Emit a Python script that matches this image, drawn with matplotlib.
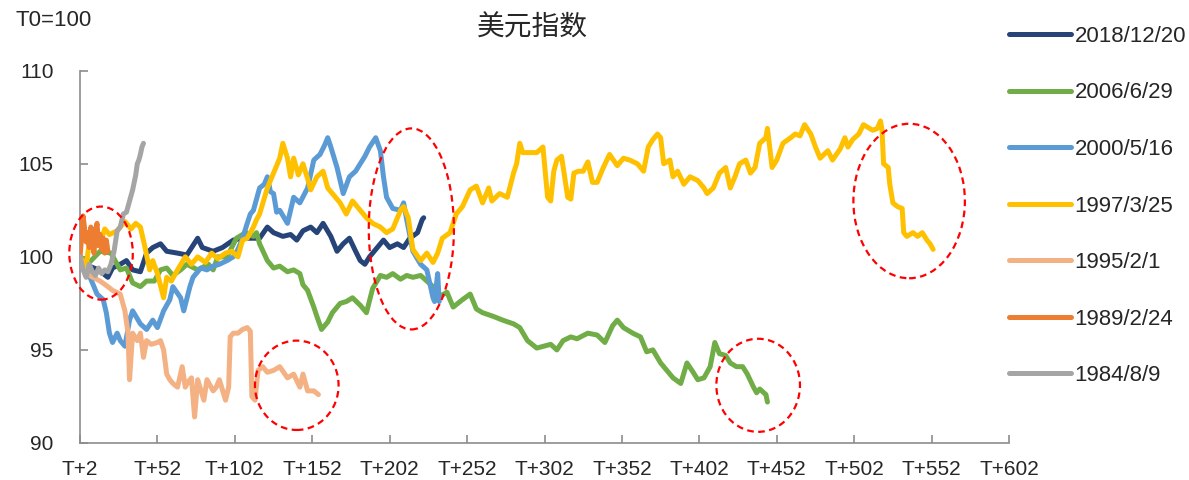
import matplotlib
matplotlib.use("Agg")
import matplotlib.pyplot as plt
from matplotlib.patches import Ellipse

plt.rcParams['font.family'] = ['Liberation Sans', 'Noto Sans CJK SC', 'DejaVu Sans']

# ---- data: US dollar index rebased to T0 = 100, by trading day after T0 ----
t_2018 = [2, 8, 14, 20, 23, 28, 32, 36, 41, 45, 49, 54, 58, 65, 71, 78, 81, 88, 94, 101,
          107, 114, 118, 123, 127, 133, 138, 142, 146, 151, 155, 159, 164, 168, 172, 176,
          180, 183, 186, 189, 194, 198, 202, 207, 211, 215, 220, 223, 224]
v_2018 = [100.0, 99.5, 99.3, 98.9, 99.4, 99.6, 99.8, 99.3, 99.2, 100.2, 100.5, 100.7, 100.3,
          100.2, 100.1, 101.0, 100.5, 100.3, 100.5, 100.9, 101.0, 101.0, 101.0, 101.6, 101.3,
          101.1, 101.2, 100.9, 101.4, 101.6, 101.3, 101.8, 101.1, 100.3, 100.7, 101.0, 100.3,
          99.8, 99.6, 100.0, 100.5, 100.9, 100.5, 100.7, 100.5, 101.0, 101.3, 102.0, 102.1]

t_2006 = [2, 8, 15, 22, 28, 32, 36, 41, 45, 50, 54, 58, 62, 67, 71, 78, 85, 88, 91, 97,
          100, 103, 109, 114, 116, 118, 123, 127, 131, 136, 140, 144, 146, 149, 153, 155,
          158, 162, 165, 170, 174, 178, 183, 187, 191, 196, 200, 204, 209, 213, 217, 222,
          226, 230, 235, 239, 243, 249, 254, 258, 262, 269, 275, 282, 286, 291, 297, 306,
          310, 314, 319, 323, 330, 336, 341, 346, 349, 353, 359, 364, 368, 372, 377, 381,
          385, 390, 394, 398, 401, 405, 409, 412, 415, 419, 422, 426, 430, 433, 437, 439,
          441, 445, 446]
v_2006 = [100.0, 99.7, 100.3, 100.2, 99.3, 99.4, 98.6, 98.4, 98.7, 98.7, 99.3, 99.4, 99.0,
          99.3, 99.6, 99.3, 99.6, 99.3, 100.0, 100.0, 100.5, 101.0, 101.3, 101.1, 101.3,
          100.7, 99.8, 99.4, 99.5, 99.2, 99.3, 99.1, 98.5, 98.2, 97.3, 96.8, 96.1, 96.5,
          97.0, 97.5, 97.6, 97.8, 97.4, 97.0, 98.3, 99.0, 98.9, 99.1, 98.8, 99.0, 98.9,
          99.0, 98.7, 98.4, 97.9, 98.1, 97.3, 97.7, 98.0, 97.2, 97.0, 96.8, 96.6, 96.4,
          96.2, 95.5, 95.1, 95.3, 95.0, 95.5, 95.7, 95.6, 95.9, 95.8, 95.4, 96.3, 96.6,
          96.2, 95.9, 95.7, 94.9, 95.0, 94.3, 93.9, 93.5, 93.2, 94.3, 93.8, 93.4, 93.5,
          94.1, 95.4, 94.8, 94.7, 94.3, 94.1, 94.1, 93.7, 93.0, 92.7, 92.9, 92.6, 92.2]

t_2000 = [2, 4, 8, 13, 17, 19, 21, 23, 26, 28, 31, 34, 36, 41, 45, 49, 52, 56, 60, 62,
          67, 69, 73, 75, 80, 84, 88, 92, 97, 101, 104, 107, 110, 112, 114, 118, 121, 123,
          125, 127, 129, 131, 136, 140, 144, 149, 153, 157, 160, 162, 164, 168, 172, 176,
          180, 183, 186, 189, 193, 196, 198, 200, 204, 209, 211, 213, 217, 222, 226, 230,
          231, 233, 234]
v_2000 = [100.0, 99.4, 99.0, 98.0, 97.7, 97.0, 95.9, 95.4, 95.9, 95.5, 95.2, 96.6, 97.1,
          96.4, 96.1, 96.6, 96.2, 97.1, 97.7, 98.4, 97.8, 97.1, 98.4, 98.9, 99.4, 99.3,
          99.5, 99.6, 99.8, 100.0, 100.4, 101.0, 101.8, 102.3, 102.5, 103.7, 103.9, 104.3,
          103.5, 103.4, 102.4, 102.5, 101.8, 103.2, 102.9, 103.7, 105.2, 105.5, 106.0,
          106.4, 105.9, 104.8, 103.4, 104.3, 104.6, 105.0, 105.4, 105.9, 106.4, 105.7,
          104.3, 103.2, 102.6, 102.5, 102.9, 102.0, 100.3, 99.6, 99.3, 97.8, 97.6, 99.1,
          97.6]

t_1997 = [2, 6, 8, 12, 15, 18, 21, 26, 31, 35, 38, 41, 44, 47, 49, 52, 56, 58, 61, 65,
          70, 74, 78, 83, 87, 91, 96, 100, 104, 107, 110, 114, 116, 118, 123, 127, 131,
          133, 136, 138, 140, 143, 146, 149, 151, 155, 159, 162, 165, 170, 174, 178, 183,
          187, 191, 196, 200, 204, 209, 211, 214, 217, 222, 226, 230, 233, 236, 241, 245,
          249, 254, 258, 262, 266, 268, 273, 278, 282, 284, 286, 288, 293, 297, 301, 304,
          306, 308, 310, 313, 317, 319, 321, 324, 327, 330, 333, 336, 340, 344, 349, 353,
          357, 362, 366, 369, 372, 375, 377, 379, 383, 385, 388, 392, 396, 401, 405, 407,
          411, 415, 419, 422, 425, 428, 432, 435, 438, 441, 445, 446, 449, 452, 456, 461,
          464, 467, 470, 474, 477, 480, 485, 488, 493, 496, 498, 501, 505, 508, 512, 514,
          517, 519, 520, 521, 524, 525, 527, 530, 533, 534, 536, 540, 543, 546, 549, 551,
          553]
v_1997 = [100.0, 99.5, 100.8, 101.3, 100.7, 101.5, 101.2, 101.4, 101.9, 101.5, 101.8,
          101.6, 100.5, 99.3, 99.8, 99.1, 97.8, 98.9, 98.7, 99.3, 100.0, 99.6, 100.0, 99.7,
          100.2, 99.9, 100.2, 100.3, 100.0, 100.9, 101.0, 101.6, 102.0, 102.3, 103.7, 104.5,
          105.3, 106.1, 105.3, 104.3, 105.3, 104.4, 105.0, 104.2, 103.6, 104.3, 104.6,
          103.7, 103.4, 102.9, 102.3, 103.0, 102.5, 102.1, 101.8, 101.6, 101.3, 101.5,
          102.5, 102.7, 102.1, 100.4, 99.8, 100.2, 99.7, 100.2, 101.0, 101.3, 102.3, 102.7,
          103.6, 103.8, 102.9, 103.7, 103.0, 103.4, 103.2, 104.5, 105.0, 106.1, 105.6,
          105.6, 105.6, 105.9, 103.2, 103.0, 104.6, 105.2, 105.4, 103.2, 103.1, 104.5,
          104.6, 104.6, 105.1, 104.0, 104.0, 104.8, 105.5, 104.9, 105.3, 105.2, 105.0,
          104.6, 105.9, 106.3, 106.6, 106.4, 105.0, 105.2, 104.3, 104.6, 103.9, 104.3,
          104.1, 103.7, 103.4, 103.7, 104.5, 104.8, 103.7, 104.3, 105.0, 105.2, 104.5,
          104.8, 106.1, 106.4, 106.9, 104.8, 105.2, 106.1, 106.4, 106.6, 106.5, 107.1,
          106.6, 105.9, 105.3, 105.7, 105.2, 105.8, 106.4, 105.9, 106.3, 106.6, 107.1,
          106.9, 106.8, 106.9, 107.3, 106.8, 105.0, 104.8, 103.9, 102.9, 102.7, 102.6,
          101.3, 101.1, 101.3, 101.1, 101.3, 100.9, 100.7, 100.4]

t_1995 = [2, 4, 8, 15, 20, 23, 28, 31, 33, 34, 36, 39, 41, 43, 45, 48, 52, 54, 56, 58, 60,
          62, 65, 68, 70, 72, 74, 76, 78, 82, 84, 88, 90, 92, 96, 98, 99, 101, 104, 107, 110,
          112, 113, 115, 117, 120, 123, 127, 131, 136, 140, 144, 146, 149, 153, 156]
v_1995 = [100.0, 99.4, 99.0, 98.7, 98.4, 98.2, 98.0, 97.1, 95.9, 93.4, 95.9, 95.5, 95.9,
          94.6, 95.5, 95.3, 95.4, 95.5, 95.0, 93.7, 93.4, 93.2, 93.0, 94.1, 93.0, 93.3,
          93.5, 91.4, 93.4, 92.3, 93.4, 92.8, 93.0, 93.4, 92.3, 93.0, 95.7, 95.9, 95.9,
          96.1, 96.2, 96.0, 92.5, 92.3, 93.9, 94.1, 93.8, 93.9, 94.1, 93.5, 93.7, 93.0,
          93.7, 92.8, 92.8, 92.6]

t_1989 = [2, 3, 4, 5, 6, 7, 8, 9, 10, 11, 12, 13, 14, 15, 16, 17, 18, 19, 20]
v_1989 = [100.0, 101.0, 102.2, 101.5, 100.8, 101.3, 100.5, 101.6, 101.0, 100.2, 101.4,
          101.8, 100.6, 101.2, 100.4, 101.0, 100.2, 100.9, 100.3]

t_1984 = [2, 4, 6, 8, 10, 12, 14, 16, 18, 20, 22, 24, 26, 28, 30, 32, 34, 36, 37, 38, 39,
          40, 41, 42, 43]
v_1984 = [100.0, 99.3, 98.9, 99.6, 99.2, 99.0, 99.4, 99.1, 99.3, 99.2, 99.6, 100.3, 101.4,
          101.6, 102.3, 102.4, 103.0, 103.6, 104.0, 104.4, 105.0, 105.2, 105.5, 105.9,
          106.1]

labels = ['2018/12/20', '2006/6/29', '2000/5/16', '1997/3/25', '1995/2/1',
          '1989/2/24', '1984/8/9']
colors = ['#264478', '#70AD47', '#5B9BD5', '#FFC000', '#F4B183', '#ED7D31', '#A5A5A5']
series = [(t_2018, v_2018), (t_2006, v_2006), (t_2000, v_2000), (t_1997, v_1997),
          (t_1995, v_1995), (t_1989, v_1989), (t_1984, v_1984)]

x_ticks = list(range(2, 603, 50))
x_ticklabels = ['T+%d' % t for t in x_ticks]
y_ticks = [90, 95, 100, 105, 110]

# highlighted episodes: (centre day, centre level, width in days, height in index points)
highlights = [(15.6, 100.2, 41, 5.0), (142, 93.1, 54, 4.8), (216, 101.5, 55, 10.8),
              (440, 93.1, 54, 5.0), (537.5, 103.0, 72, 8.3)]

# ---- figure ----
text_color = '#262626'
fig = plt.figure(figsize=(11.89, 4.80), dpi=100)
ax = fig.add_axes([80 / 1189, 1 - 443 / 480, (1009 - 80) / 1189, (443 - 70.7) / 480])

for i, ((t, v), lab, col) in enumerate(zip(series, labels, colors)):
    ax.plot(t, v, color=col, lw=3.6, label=lab, zorder=2 + i,
            solid_joinstyle='round', solid_capstyle='round')

for cx, cy, w, h in highlights:
    ax.add_patch(Ellipse((cx, cy), w, h, fill=False, edgecolor='#FF0000', lw=1.6,
                         linestyle=(0, (3, 2)), zorder=20, clip_on=False))

ax.set_xlim(2, 602)
ax.set_ylim(90, 110)
ax.set_xticks(x_ticks)
ax.set_xticklabels(x_ticklabels)
ax.set_yticks(y_ticks)

for side in ('top', 'right'):
    ax.spines[side].set_visible(False)
for side in ('left', 'bottom'):
    ax.spines[side].set_color('#8C8C8C')
    ax.spines[side].set_linewidth(1.2)

ax.tick_params(axis='both', direction='in', length=6, width=1.2, color='#8C8C8C',
               labelsize=15, labelcolor=text_color)
ax.tick_params(axis='y', pad=19)
ax.tick_params(axis='x', pad=12)

fig.text(532 / 1189, 1 - 28 / 480, '美元指数', ha='center', va='center',
         fontsize=20, color=text_color, family=['Noto Sans CJK SC', 'DejaVu Sans'])
fig.text(15 / 1189, 1 - 20 / 480, 'T0=100', ha='left', va='center',
         fontsize=16, color=text_color)

leg = fig.legend(loc='upper left', bbox_to_anchor=(1000 / 1189, 1 - 17 / 480),
                 frameon=False, fontsize=16, handlelength=2.8, handletextpad=0.15,
                 labelspacing=1.6, borderaxespad=0)
for txt in leg.get_texts():
    txt.set_color(text_color)
for line in leg.get_lines():
    line.set_linewidth(3.6)

fig.savefig('out.png', dpi=100)
